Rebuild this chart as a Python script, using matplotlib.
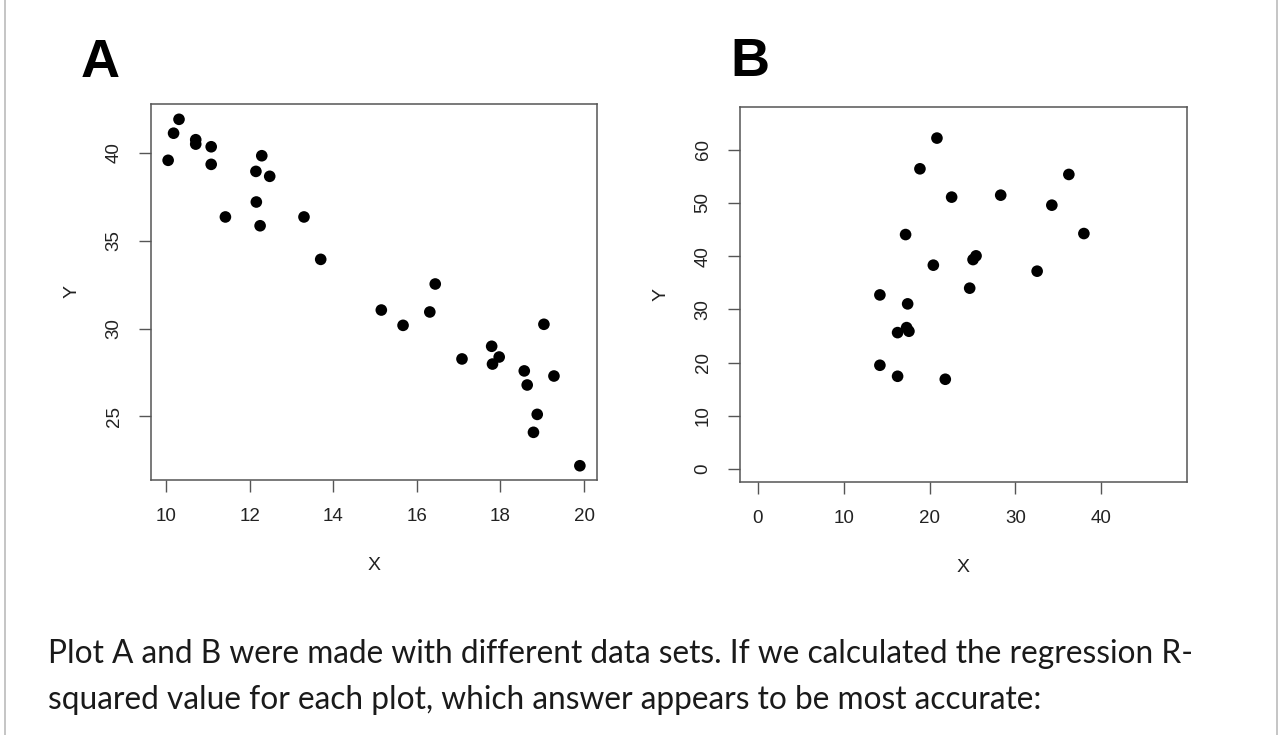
import matplotlib.pyplot as plt
from matplotlib.lines import Line2D

# plot A data (strong negative relation)
a_x = [10.31, 10.18, 10.71, 10.71, 11.08, 10.05, 11.08, 12.29, 12.15, 12.48,
       12.16, 11.42, 12.25, 13.30, 13.70, 16.44, 15.15, 15.67, 16.31, 19.04,
       17.79, 17.08, 17.97, 17.81, 18.57, 19.28, 18.64, 18.88, 18.79, 19.90]
a_y = [41.89, 41.10, 40.73, 40.48, 40.33, 39.56, 39.33, 39.82, 38.93, 38.65,
       37.19, 36.34, 35.84, 36.34, 33.93, 32.53, 31.05, 30.18, 30.94, 30.24,
       28.99, 28.27, 28.38, 27.98, 27.59, 27.30, 26.79, 25.12, 24.10, 22.20]
a_xticks = [10, 12, 14, 16, 18, 20]
a_yticks = [25, 30, 35, 40]

# plot B data (weak positive relation)
b_x = [20.86, 18.88, 36.21, 22.57, 28.28, 34.23, 17.21, 37.96, 25.41, 25.06,
       20.44, 32.52, 24.67, 14.22, 17.45, 17.33, 17.60, 16.28, 14.22, 16.28,
       21.83]
b_y = [62.16, 56.39, 55.33, 51.07, 51.44, 49.56, 44.04, 44.23, 40.04, 39.34,
       38.29, 37.16, 33.97, 32.70, 31.02, 26.56, 25.88, 25.62, 19.49, 17.42,
       16.86]
b_xticks = [0, 10, 20, 30, 40]
b_yticks = [0, 10, 20, 30, 40, 50, 60]

question = ("Plot A and B were made with different data sets. If we calculated the regression R-\n"
            "squared value for each plot, which answer appears to be most accurate:")

W, H = 1280, 735
fig = plt.figure(figsize=(W / 100, H / 100), dpi=100)
fig.patch.set_facecolor("white")

frame_col = "#555555"
label_font = dict(family="Liberation Sans", size=14, color="#222222")


def r_style(ax, xticks, yticks):
    for sp in ax.spines.values():
        sp.set_color(frame_col)
        sp.set_linewidth(1.1)
    ax.set_xticks(xticks)
    ax.set_yticks(yticks)
    ax.tick_params(direction="out", length=8.5, width=1.0, color=frame_col,
                   labelsize=13.5, labelcolor="#222222", pad=12)
    for lab in ax.get_xticklabels():
        lab.set_family("Liberation Sans")
    for lab in ax.get_yticklabels():
        lab.set_family("Liberation Sans")
        lab.set_rotation(90)
        lab.set_va("center")
    ax.set_xlabel("X", fontdict=label_font, labelpad=23)
    ax.set_ylabel("Y", fontdict=label_font, labelpad=18)


# panel A
axA = fig.add_axes([151 / W, 1 - 480 / H, 446 / W, 376 / H])
axA.scatter(a_x, a_y, s=70, color="black", edgecolors="none")
axA.set_xlim(9.64, 20.31)
axA.set_ylim(21.39, 42.76)
r_style(axA, a_xticks, a_yticks)

# panel B
axB = fig.add_axes([740 / W, 1 - 482 / H, 447 / W, 375 / H])
axB.scatter(b_x, b_y, s=70, color="black", edgecolors="none")
axB.set_xlim(-2.06, 49.96)
axB.set_ylim(-2.44, 68.0)
r_style(axB, b_xticks, b_yticks)

# panel letters
fig.text(100 / W, 1 - 63 / H, "A", family="Liberation Sans", weight="bold",
         size=39, ha="center", va="center")
fig.text(750 / W, 1 - 62 / H, "B", family="Liberation Sans", weight="bold",
         size=39, ha="center", va="center")

# question text below the plots
fig.text(48 / W, 1 - 677 / H, question, family="Lato", size=22.8,
         color="#1a1a1a", ha="left", va="center", linespacing=1.63)

# page border on the sides
fig.add_artist(Line2D([5 / W, 5 / W], [0, 1], color="#bbbbbb", lw=1.2))
fig.add_artist(Line2D([1277 / W, 1277 / W], [0, 1], color="#bbbbbb", lw=1.2))

fig.savefig("out.png", dpi=100)
